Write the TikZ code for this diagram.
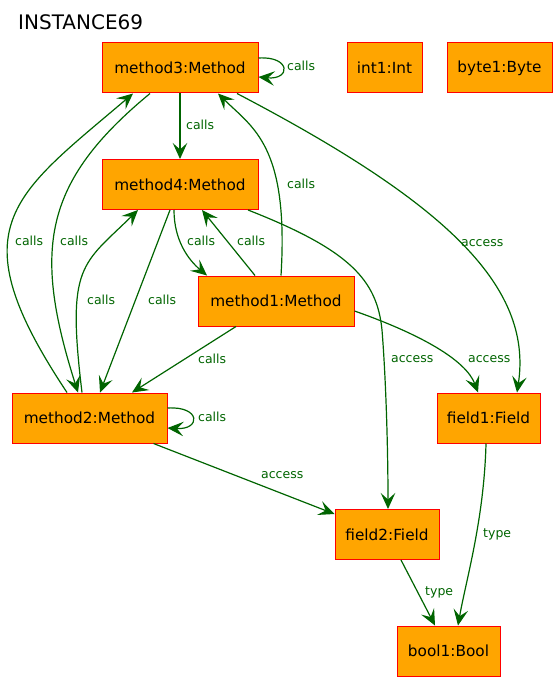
\documentclass[tikz,border=0pt]{standalone}
\usepackage{fontspec}
\setmainfont{DejaVu Sans}
\usetikzlibrary{arrows.meta}
\definecolor{ObjOrange}{RGB}{255,165,0}
\definecolor{ObjRed}{RGB}{255,0,0}
\definecolor{RelGreen}{RGB}{0,100,0}

\begin{document}
\begin{tikzpicture}[x=1pt,y=-1pt,>={Stealth[length=16pt,width=14.5pt,inset=6.5pt]},
    obj/.style={draw=ObjRed,fill=ObjOrange,line width=1pt,inner sep=0pt,minimum height=50pt,font=\fontsize{15.3}{18}\selectfont},
    rel/.style={->,RelGreen,line width=1.2pt},
    lbl/.style={anchor=west,inner sep=0pt,text=RelGreen,font=\fontsize{12.5}{15}\selectfont}]
      \useasboundingbox (0,0) rectangle (558,682);
      \node[anchor=west,inner sep=0pt,font=\fontsize{20}{24}\selectfont] (title) at (18,22.5) {INSTANCE69};
      \node[obj,minimum width=156pt] (m3) at (180,68) {method3:Method};
      \node[obj,minimum width=75pt] (int1) at (384.5,68) {int1:Int};
      \node[obj,minimum width=105pt] (byte1) at (499.5,68) {byte1:Byte};
      \node[obj,minimum width=156pt] (m4) at (180,184.5) {method4:Method};
      \node[obj,minimum width=156pt] (m1) at (276,301) {method1:Method};
      \node[obj,minimum width=155pt] (m2) at (89.5,418) {method2:Method};
      \node[obj,minimum width=103pt] (f1) at (488.5,418) {field1:Field};
      \node[obj,minimum width=104pt] (f2) at (387,534.5) {field2:Field};
      \node[obj,minimum width=103pt] (b1) at (448.5,651) {bool1:Bool};
      % calls
      \draw[rel] ([yshift=10pt]m3.east) .. controls (291,56) and (291,80) .. ([yshift=-9pt]m3.east);
      \draw[rel] (m3) -- (m4);
      \draw[rel] ([xshift=-30pt]m3.south) .. controls (42,182.6) and (33,250.5) .. ([xshift=-11.5pt]m2.north);
      \draw[rel] ([xshift=-22.5pt]m2.north) .. controls (-43,227) and (11.4,197) .. ([xshift=-47pt]m3.south);
      \draw[rel] ([xshift=-6pt]m4.south) .. controls (174,240) and (188,259.5) .. ([xshift=-69pt]m1.north);
      \draw[rel] ([xshift=-21pt]m1.north) -- ([xshift=22pt]m4.south);
      \draw[rel] ([xshift=5pt]m1.north) .. controls (289,146) and (253,128) .. ([xshift=38pt]m3.south);
      \draw[rel] ([xshift=-7.5pt]m2.north) .. controls (66.4,264.3) and (82,265) .. ([xshift=-42pt]m4.south);
      \draw[rel] ([xshift=-10pt]m4.south) -- ([xshift=10.5pt]m2.north);
      \draw[rel] ([xshift=-40pt]m1.south) -- ([xshift=42.5pt]m2.north);
      \draw[rel] ([yshift=10pt]m2.east) .. controls (201,406) and (201,430) .. ([yshift=-10pt]m2.east);
      % access
      \draw[rel] ([xshift=57pt]m3.south) .. controls (440.5,200) and (533.5,284) .. ([xshift=28.5pt]f1.north);
      \draw[rel] ([xshift=68pt]m4.south) .. controls (350,250) and (377,280) .. (382,330) .. controls (386,380) and (388,450) .. ([xshift=1pt]f2.north);
      \draw[rel] ([yshift=-10pt]m1.east) .. controls (420,334) and (466,360) .. ([xshift=-10.5pt]f1.north);
      \draw[rel] ([xshift=64pt]m2.south) -- ([yshift=20.5pt]f2.west);
      % type
      \draw[rel] ([xshift=-2.5pt]f1.south) .. controls (484,520) and (466,580) .. ([xshift=9.5pt]b1.north);
      \draw[rel] ([xshift=14pt]f2.south) -- ([xshift=-13.5pt]b1.north);
      % labels
      \node[lbl] (calls33) at (287,66.3) {calls};
      \node[lbl] (calls34) at (186,124.5) {calls};
      \node[lbl] (calls23) at (15,241.3) {calls};
      \node[lbl] (calls32) at (60,241.3) {calls};
      \node[lbl] (calls41) at (187,241.3) {calls};
      \node[lbl] (calls14) at (237,241.3) {calls};
      \node[lbl] (calls13) at (287,183.7) {calls};
      \node[lbl] (calls24) at (87,299.7) {calls};
      \node[lbl] (calls42) at (148,299.7) {calls};
      \node[lbl] (calls12) at (198,358.7) {calls};
      \node[lbl] (calls22) at (198,417) {calls};
      \node[lbl] (access3) at (461,243) {access};
      \node[lbl] (access4) at (391,359.5) {access};
      \node[lbl] (access1) at (468,359.5) {access};
      \node[lbl] (access2) at (261,475) {access};
      \node[lbl] (type1) at (483,534) {type};
      \node[lbl] (type2) at (425,592) {type};
    \end{tikzpicture}
\end{document}
